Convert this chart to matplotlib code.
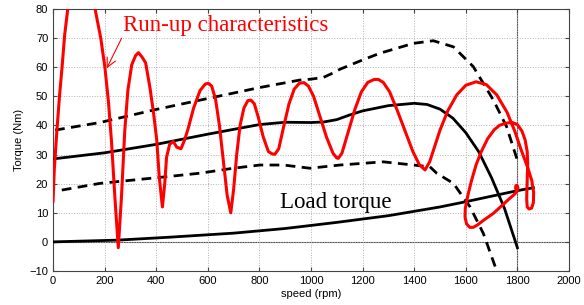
import numpy as np
import matplotlib.pyplot as plt

# run-up trajectory (speed rpm, torque Nm)
runup_speed = [0, 5, 14, 25, 35, 45, 57, 68, 85, 110, 135, 150, 163, 185, 201, 215, 227, 240, 253,
               265, 278, 290, 305, 320, 331, 345, 359, 376, 390, 402, 412, 424, 433, 440, 452, 466,
               480, 496, 510, 524, 545, 570, 590, 602, 615, 630, 645, 660, 675, 689, 700, 712, 725,
               740, 755, 767, 780, 795, 815, 835, 850, 860, 875, 895, 915, 935, 955, 973, 990, 1010,
               1035, 1060, 1085, 1100, 1106, 1120, 1145, 1170, 1195, 1220, 1245, 1261, 1280, 1305,
               1335, 1365, 1395, 1420, 1442, 1460, 1480, 1500, 1530, 1565, 1600, 1640, 1680, 1720,
               1760, 1790, 1815, 1840, 1856, 1863, 1862, 1855, 1845, 1838, 1836, 1838, 1840, 1838,
               1830, 1818, 1800, 1780, 1755, 1730, 1710, 1685, 1660, 1640, 1622, 1608, 1598, 1597,
               1603, 1615, 1629, 1645, 1670, 1707, 1740, 1771, 1788, 1795, 1800, 1802, 1799, 1794,
               1793, 1797]
runup_torque = [14, 25, 37, 50, 60, 71, 80, 88, 96, 100, 96, 88, 80, 70, 60, 48, 34, 15, -2,
                15, 38, 52, 60.8, 64, 65, 63.5, 61.5, 52.8, 44, 35, 22, 12, 20, 29, 33.5, 34.5,
                32.5, 32, 35, 39, 46, 52, 54.2, 54.5, 53.5, 49, 40, 28, 16, 10, 18, 30, 40,
                46, 48.5, 48.7, 47.5, 43, 36, 31, 30.2, 30.1, 32, 40, 47.5, 52.5, 54.5, 54.7, 53.5, 50,
                43, 36, 30.5, 28.8, 28.7, 30.5, 38, 45.5, 51.5, 54.8, 55.8, 55.8, 54.8, 51.5,
                45, 38, 31, 26.5, 24.7, 27.5, 33, 38.4, 45, 50.5, 53.8, 55, 54, 50.5,
                44.5, 38, 31.5, 25.5, 21, 17, 13.5, 11.6, 11.3, 12, 15, 21, 27, 31,
                35, 38, 40.3, 41, 40.8, 40, 38.5, 35.5, 31, 26.5, 21, 16, 11.5, 8.5,
                6.2, 5, 5, 5.8, 7.5, 9.8, 12.5, 15, 16.3, 17, 17.6, 18.6, 19.4, 19.3,
                18.3, 17.8]

# steady-state torque (solid) and its envelope (dashed)
mean_speed = [0, 200, 400, 600, 800, 900, 1000, 1050, 1100, 1150, 1200, 1300, 1400, 1450, 1500,
              1550, 1600, 1650, 1700, 1750, 1800]
mean_torque = [28.5, 30.6, 33.5, 37, 40.3, 41.1, 41, 41.2, 42, 43.6, 45, 46.8, 47.6, 47.2, 45.6,
               42.5, 37.5, 31, 22, 11.5, -2]
upper_speed = [8, 182, 400, 570, 800, 957, 1000, 1048, 1080, 1112, 1200, 1267, 1397, 1474,
               1552, 1629, 1707, 1758, 1800]
upper_torque = [38.4, 41, 45.5, 48.7, 53, 55.6, 55.9, 56.5, 57.8, 59.3, 62.5, 64.8, 68.2,
                69.1, 67, 60.2, 48.7, 39.6, 28]
lower_speed = [34, 182, 441, 570, 699, 802, 893, 996, 1112, 1280, 1397, 1461, 1487, 1552,
               1616, 1668, 1720]
lower_torque = [17.8, 20.1, 22.4, 23.6, 25.3, 26.4, 26.4, 25.3, 26.4, 27.5, 26.4, 25.8,
                23.6, 20.1, 12.1, 2.9, -10]

# load torque
load_speed = [0, 250, 450, 700, 900, 1100, 1300, 1500, 1600, 1700, 1800, 1862]
load_torque = [0, 0.6, 1.6, 3, 4.6, 6.7, 9, 12, 13.8, 15.7, 17.6, 18.6]

plt.rcParams['font.family'] = ['Liberation Sans', 'DejaVu Sans']
fig = plt.figure(figsize=(5.84, 3.05), dpi=100)
ax = fig.add_axes([0.0908, 0.1115, 0.8835, 0.859])

ax.axhline(0, color='#555555', lw=0.8, zorder=1)
ax.axvline(1800, color='#555555', lw=0.8, zorder=1)

ax.plot(load_speed, load_torque, color='k', lw=2, zorder=3)
ax.plot(mean_speed, mean_torque, color='k', lw=2, zorder=3)
ax.plot(upper_speed, upper_torque, color='k', lw=2, ls=(0, (3.5, 2.3)), zorder=3)
ax.plot(lower_speed, lower_torque, color='k', lw=2, ls=(0, (3.5, 2.3)), zorder=3)
ax.plot(runup_speed, runup_torque, color='red', lw=2.2, zorder=4)

ax.set_xlim(0, 2000)
ax.set_ylim(-10, 80)
ax.set_xticks(np.arange(0, 2001, 200))
ax.set_yticks(np.arange(-10, 81, 10))
ax.grid(True, ls=':', color='#b0b0b0', lw=0.7)
ax.tick_params(direction='in', top=True, right=True, labelsize=8, length=3, color='#444444')
for s in ax.spines.values():
    s.set_color('#444444')
    s.set_linewidth(0.8)
ax.set_xlabel('speed (rpm)', fontsize=8, labelpad=2)
ax.set_ylabel('Torque (Nm)', fontsize=8, labelpad=4)

ax.annotate('Run-up characteristics', xy=(208, 59.6), xytext=(271, 74.5),
            color='red', fontsize=16.5, family=['Liberation Serif'], va='center', ha='left',
            arrowprops=dict(arrowstyle='->', color='red', lw=0.8, shrinkA=0, shrinkB=0,
                            relpos=(0.0, 0.0)))
ax.text(880, 11.6, 'Load torque', fontsize=16.5, family=['Liberation Serif'], va='baseline')

plt.savefig('out.png', dpi=100)
